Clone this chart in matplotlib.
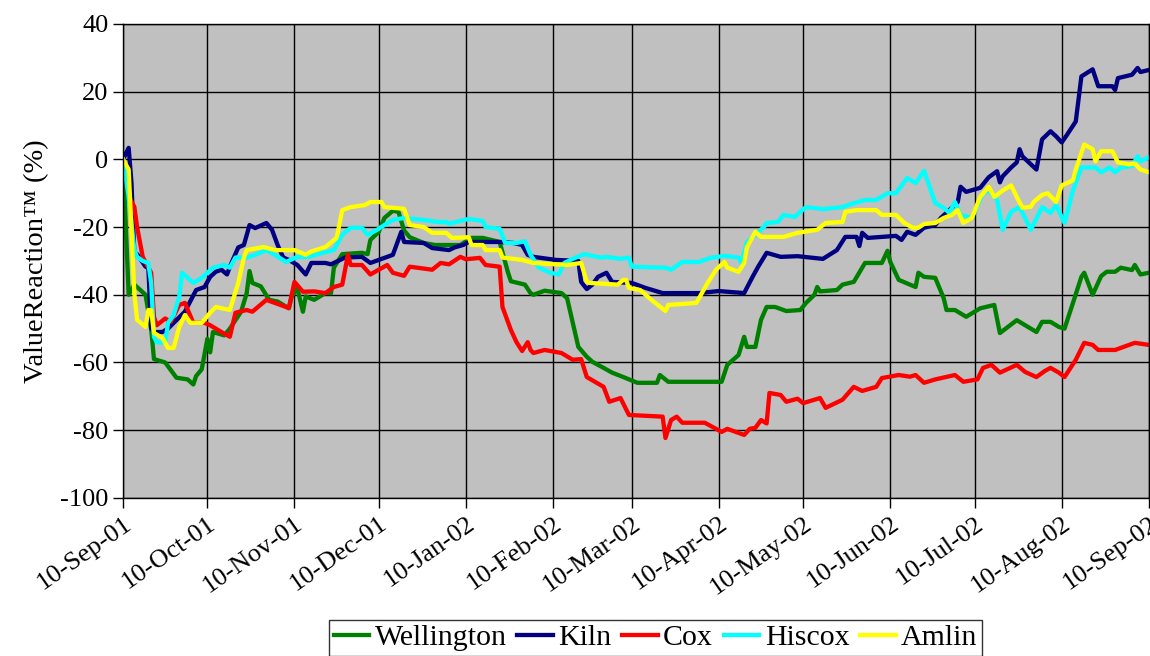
import pandas as pd
import matplotlib
matplotlib.use('Agg')
import matplotlib.pyplot as plt
import matplotlib.dates as mdates

start = pd.Timestamp('2001-09-10')

# (day offset from 10-Sep-01, ValueReaction %)
wellington_days = [0, 2, 4, 8, 10, 11, 15, 19, 23, 25, 26, 28, 30, 31, 32, 36, 38, 42, 44, 45, 46, 49, 52, 55, 59, 60, 62, 64, 65, 68, 72, 74, 75, 78, 85, 87, 88, 91, 93, 96, 98, 100, 102, 107, 111, 120, 124, 128, 134, 137, 138, 143, 145, 146, 150, 156, 158, 162, 165, 167, 171, 174, 178, 183, 190, 191, 194, 200, 213, 215, 219, 221, 222, 225, 227, 229, 232, 236, 241, 243, 246, 247, 248, 254, 256, 260, 264, 270, 272, 273, 276, 282, 283, 285, 289, 292, 293, 296, 300, 305, 310, 312, 318, 325, 327, 330, 333, 335, 338, 341, 342, 345, 348, 350, 353, 355, 359, 360, 362, 365]
wellington = [0, -40, -37, -40, -50, -59, -60, -64.5, -65, -66.5, -64, -62, -53, -57, -51, -52, -50, -45, -39.5, -33, -36.5, -37.5, -41.5, -42, -44, -40.5, -38, -45, -40.5, -41.5, -39.5, -39.5, -32, -28, -27.6, -28, -23.8, -21.4, -17.3, -15.2, -15.5, -21, -23, -24.7, -25.3, -25.3, -23.2, -23.2, -24.4, -33.5, -36, -37, -39.5, -40, -38.8, -39.5, -41, -55.4, -58.3, -59.8, -61.6, -63, -64.3, -66, -66, -63.7, -65.7, -65.7, -65.7, -60.7, -57.8, -52.4, -55.4, -55.4, -47.4, -43.6, -43.6, -44.8, -44.5, -42.4, -40, -37.7, -39, -38.6, -37, -36.2, -30.6, -30.6, -27, -30.3, -35.6, -37.7, -33.5, -34.7, -35, -41, -44.5, -44.5, -46.5, -44, -43, -51.3, -47.5, -51, -48, -48, -49.5, -50, -42.4, -34.7, -33.5, -40, -34.5, -33.2, -33.2, -32, -32.7, -31.2, -34, -33.5]

kiln_days = [0, 2, 3, 4, 5, 8, 9, 10, 11, 14, 16, 18, 22, 26, 29, 31, 33, 35, 37, 38, 41, 43, 45, 47, 51, 53, 55, 57, 59, 62, 65, 67, 72, 74, 79, 85, 88, 91, 96, 99, 100, 107, 110, 116, 118, 121, 123, 134, 139, 142, 144, 146, 154, 162, 163, 165, 167, 169, 172, 174, 181, 186, 192, 205, 212, 221, 224, 226, 229, 234, 240, 249, 254, 257, 261, 262, 263, 265, 275, 277, 279, 282, 285, 289, 291, 294, 297, 298, 300, 305, 308, 311, 312, 313, 316, 318, 319, 320, 325, 327, 330, 332, 334, 336, 339, 341, 345, 347, 352, 353, 354, 359, 361, 362, 365]
kiln = [0, 3.4, -7, -27.6, -28, -31.7, -32, -50, -51, -51, -50, -48.3, -45, -38.6, -37.7, -34.7, -33.2, -32.6, -34, -31.7, -26, -25.3, -19.4, -20.3, -18.8, -20.8, -25.3, -29, -29.7, -31.2, -34, -30.6, -30.6, -31, -29, -28.8, -30.6, -29.7, -28.2, -21.4, -24.4, -24.7, -26.2, -26.8, -26, -25.3, -24.4, -24.4, -24.7, -25.3, -28.2, -28.8, -29.7, -30, -36.2, -38.3, -37, -34.7, -33.5, -36.2, -36.5, -38, -39.5, -39.5, -38.9, -39.5, -34.7, -31.7, -27.6, -28.8, -28.6, -29.4, -26.8, -22.9, -22.9, -25.6, -21.7, -23.2, -22.6, -23.8, -21.4, -22.3, -20.2, -19.4, -17.3, -15, -12.6, -8.1, -9.6, -8.4, -5.3, -3.5, -6.8, -5, -2.4, -0.9, 3, 0.9, -3, 5.9, 8.3, 6.8, 5, 7.4, 11.2, 24.5, 26.6, 21.6, 21.6, 20.5, 24, 25, 27, 25.8, 26.4]

cox_days = [0, 2, 4, 5, 7, 10, 11, 12, 15, 17, 20, 22, 25, 29, 31, 35, 38, 40, 44, 46, 51, 59, 61, 64, 68, 72, 75, 78, 80, 81, 85, 88, 94, 96, 100, 102, 110, 113, 116, 120, 122, 127, 129, 134, 135, 138, 140, 142, 144, 145, 146, 150, 156, 160, 163, 165, 171, 173, 177, 180, 192, 193, 195, 197, 199, 207, 213, 215, 218, 221, 223, 225, 227, 229, 230, 234, 236, 240, 242, 248, 250, 256, 260, 263, 268, 270, 276, 280, 282, 285, 289, 296, 299, 304, 306, 309, 312, 318, 321, 325, 328, 330, 333, 335, 339, 342, 345, 347, 353, 360, 365]
cox = [0, -11, -14, -20, -28.8, -33.5, -46.5, -49, -47, -48, -43, -42.4, -48.3, -48.3, -49, -51, -52.4, -45.3, -44.5, -45, -41.5, -43.9, -36.2, -39.1, -39, -39.5, -37.7, -37, -28.2, -31.2, -31.2, -34, -31.2, -33.5, -34.4, -31.7, -32.6, -30.6, -31, -28.8, -29.5, -29.1, -31.2, -31.7, -43.6, -50.4, -54, -56.6, -54, -56.3, -57.2, -56.3, -57.2, -59.2, -59, -64.3, -67.2, -71.6, -70.5, -75.5, -76, -82.3, -77, -76, -77.8, -77.8, -80.5, -79.6, -80.5, -81.4, -79.6, -79.3, -77, -78, -69, -69.6, -71.6, -70.7, -72, -70.5, -73.4, -71, -67.2, -68.4, -67.2, -64.6, -63.7, -64.2, -63.7, -66, -65, -63.7, -65.7, -65, -61.6, -60.7, -63, -60.7, -62.8, -64.3, -62.5, -61.6, -63, -64.3, -59.2, -54.2, -54.8, -56.3, -56.3, -54.2, -54.8]

hiscox_days = [0, 2, 4, 5, 7, 9, 10, 11, 12, 15, 16, 18, 20, 21, 25, 28, 32, 36, 38, 40, 44, 47, 51, 54, 58, 62, 66, 71, 75, 78, 81, 85, 87, 90, 93, 96, 100, 107, 112, 115, 116, 123, 128, 129, 134, 136, 140, 143, 145, 148, 152, 155, 157, 160, 164, 170, 172, 177, 180, 181, 193, 195, 199, 205, 209, 214, 219, 220, 222, 225, 228, 229, 233, 235, 239, 241, 243, 249, 256, 259, 264, 268, 272, 275, 279, 282, 285, 289, 292, 294, 296, 298, 302, 306, 308, 311, 313, 316, 319, 323, 327, 330, 332, 335, 338, 341, 346, 348, 351, 353, 355, 359, 361, 362, 365]
hiscox = [0, -11, -26.7, -28.8, -30, -30.6, -36.5, -52.4, -54, -54.2, -48.3, -46, -40.6, -33.5, -36.5, -35, -32, -31.2, -32, -29, -29, -28.2, -26.8, -28.2, -30.3, -28.8, -28.8, -27.6, -26.8, -22.3, -20.2, -20.2, -22.3, -21, -19.4, -17.9, -17.3, -17.9, -18.5, -18.5, -19, -17.6, -18.2, -20, -20.5, -24.7, -24.7, -24.2, -28.2, -32, -33.5, -34, -30.6, -29.4, -28, -29, -28.8, -29.4, -29, -31.7, -32, -32.6, -30.3, -30.3, -29.1, -28.5, -29, -30.6, -24.4, -22.3, -20, -18.8, -18.5, -16.4, -17, -15.5, -14.1, -14.7, -14.1, -13.2, -12, -12, -10, -10, -5.5, -7, -3.4, -12.9, -14.3, -15.8, -12.6, -16.4, -17.3, -10, -9.2, -12, -20.8, -15.5, -14.1, -20.8, -14.1, -15.8, -13.5, -18.8, -9.2, -2.4, -2.4, -3.8, -2.4, -3.8, -2.4, -2, 0.9, -0.6, 0.6]

amlin_days = [0, 2, 3, 4, 5, 8, 9, 10, 11, 14, 16, 18, 20, 22, 24, 28, 31, 33, 38, 41, 43, 44, 50, 54, 61, 65, 67, 72, 76, 78, 81, 86, 88, 92, 93, 100, 102, 107, 110, 115, 117, 123, 124, 128, 129, 134, 135, 142, 146, 158, 163, 165, 166, 176, 178, 179, 180, 184, 188, 193, 194, 204, 208, 211, 214, 215, 219, 221, 222, 225, 227, 235, 240, 247, 250, 256, 257, 261, 268, 270, 275, 278, 281, 283, 285, 289, 292, 295, 297, 299, 302, 305, 308, 310, 313, 316, 318, 320, 323, 324, 327, 329, 332, 334, 338, 339, 342, 345, 346, 348, 352, 354, 358, 360, 362, 365]
amlin = [0, -3, -20.8, -39.5, -47.4, -49.5, -44.5, -44.5, -51.3, -52.7, -55.7, -55.7, -49.5, -46, -48.3, -48.3, -45.3, -43.6, -44.5, -36.5, -29, -26.8, -25.9, -26.8, -26.8, -28.2, -27.2, -25.9, -23.2, -15, -14.1, -13.5, -12.6, -12.6, -14.1, -14.6, -19.4, -20, -21.7, -21.7, -23.2, -23, -25.3, -25.3, -26.8, -26.8, -29, -29.7, -30.6, -31.2, -30.6, -36.2, -36.5, -37, -35.6, -35.6, -38, -38.6, -41.5, -44.8, -43, -42.4, -36.5, -32.6, -30.3, -32, -33.2, -30.6, -25.9, -21.4, -22.9, -22.9, -21.7, -20.8, -18.8, -18.5, -15.5, -15, -15, -16.4, -16.4, -18.8, -20.2, -20.2, -19.1, -18.8, -17.3, -16.4, -15, -18.8, -17.3, -11.1, -8.1, -11.1, -9.2, -7.7, -11.1, -14.3, -14, -12.6, -10.5, -10, -12.6, -7.7, -6.2, -3, 4.4, 3, -0.6, 2.4, 2.4, -0.9, -1.5, -1.2, -3, -3.8]

series = [
    ('Wellington', wellington_days, wellington, '#008000'),
    ('Kiln', kiln_days, kiln, '#000080'),
    ('Cox', cox_days, cox, '#FF0000'),
    ('Hiscox', hiscox_days, hiscox, '#00FFFF'),
    ('Amlin', amlin_days, amlin, '#FFFF00'),
]

plt.rcParams['font.family'] = ['Liberation Serif', 'DejaVu Serif']
plt.rcParams['axes.unicode_minus'] = False

fig = plt.figure(figsize=(11.5, 6.56), dpi=100)
ax = fig.add_axes([0.107, 0.241, 0.892, 0.7225])
ax.set_facecolor('#C0C0C0')

for name, days, vals, col in series:
    dates = start + pd.to_timedelta(days, unit='D')
    ax.plot(dates, vals, color=col, lw=3.1, label=name, solid_joinstyle='round')

ax.set_xlim(start, pd.Timestamp('2002-09-10'))
ax.set_ylim(-100, 40)
ax.set_yticks(range(-100, 41, 20))
ax.xaxis.set_major_locator(mdates.MonthLocator(bymonthday=10))
ax.xaxis.set_major_formatter(mdates.DateFormatter('%d-%b-%y'))
ax.grid(True, color='black', lw=1)
ax.set_axisbelow(True)
for s in ax.spines.values():
    s.set_color('black')
    s.set_linewidth(1)

ax.tick_params(axis='both', direction='out', length=7, width=1, labelsize=19, colors='black')
plt.setp(ax.get_xticklabels(), rotation=35, ha='right', rotation_mode='anchor')
ax.set_ylabel('ValueReaction™ (%)', fontsize=20.5, labelpad=8)

leg = fig.legend(loc='upper center', bbox_to_anchor=(0.57, 1 - 620 / 656), ncol=5,
                 fontsize=21.5, frameon=True, fancybox=False, borderaxespad=0,
                 handlelength=1.2, handletextpad=0.18, columnspacing=0.35,
                 borderpad=0.15)
leg.get_frame().set_edgecolor('black')
leg.get_frame().set_linewidth(1)

fig.savefig('out.png', dpi=100, facecolor='white')
